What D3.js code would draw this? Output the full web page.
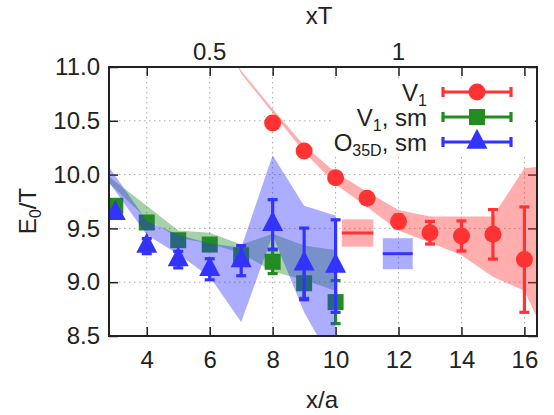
<!DOCTYPE html>
<html>
<head>
<meta charset="utf-8">
<script src="https://cdn.jsdelivr.net/npm/d3@7"></script>
<style>
  body { margin: 0; background: #fff; }
  text { font-family: "Liberation Sans", Arial, sans-serif; fill: #222; }
</style>
</head>
<body>
<div id="chart"></div>
<script>
// V1 (red circles)
const v1X   = [8, 9, 10, 11, 12, 13, 14, 15, 16];
const v1Y   = [10.48, 10.22, 9.97, 9.78, 9.565, 9.46, 9.43, 9.445, 9.21];
const v1Err = [0.02, 0.02, 0.03, 0.04, 0.06, 0.105, 0.14, 0.23, 0.49];

// V1, sm (green squares)
const smX   = [3, 4, 5, 6, 7, 8, 9, 10];
const smY   = [9.71, 9.555, 9.39, 9.35, 9.25, 9.19, 8.99, 8.815];
const smErr = [0.03, 0.03, 0.04, 0.05, 0.06, 0.11, 0.14, 0.2];

// O35D, sm (blue triangles)
const o35X   = [3, 4, 5, 6, 7, 8, 9, 10];
const o35Y   = [9.64, 9.335, 9.21, 9.12, 9.2, 9.537, 9.17, 9.15];
const o35Err = [0.03, 0.07, 0.077, 0.098, 0.14, 0.23, 0.333, 0.43];

// bands
const v1BandX  = [6.9, 7, 8, 9, 10, 11, 12, 13, 14, 15, 16, 16.4];
const v1BandLo = [11.0, 10.94, 10.575, 10.21, 9.91, 9.70, 9.48, 9.37, 9.25, 9.05, 8.92, 8.67];
const v1BandHi = [11.02, 10.965, 10.61, 10.27, 10.02, 9.84, 9.67, 9.61, 9.61, 9.61, 10.06, 10.07];

const smBandX  = [2.8, 4, 5, 6, 7, 8, 9, 10];
const smBandLo = [9.92, 9.59, 9.41, 9.36, 9.27, 9.10, 9.02, 8.92];
const smBandHi = [9.98, 9.71, 9.48, 9.46, 9.35, 9.45, 9.34, 9.30];

const o35BandX  = [2.8, 4, 5, 6, 7, 8, 9, 10];
const o35BandLo = [9.93, 9.44, 9.26, 9.05, 8.63, 9.44, 8.72, 8.2];
const o35BandHi = [10.07, 9.57, 9.44, 9.36, 9.32, 10.18, 9.71, 9.62];

// plateau fits: red then blue
const platX0  = [10.2, 11.5];
const platX1  = [11.2, 12.45];
const platY   = [9.457, 9.265];
const platErr = [0.127, 0.144];

// ticks
const xTicks  = [4, 6, 8, 10, 12, 14, 16];
const yTicks  = [8.5, 9.0, 9.5, 10.0, 10.5, 11.0];
const xtTicks = [0.5, 1];
const xtScale = 12; // xT = (x/a) / 12

const red = "#ff3333", green = "#228b22", blue = "#3333ff";

const width = 554, height = 415;
const plot = { left: 109, right: 537, top: 67, bottom: 336 };

const svg = d3.select("#chart").append("svg")
    .attr("width", width)
    .attr("height", height);

const x = d3.scaleLinear().domain([2.8, 16.4]).range([plot.left, plot.right]);
const y = d3.scaleLinear().domain([8.5, 11.0]).range([plot.bottom, plot.top]);

svg.append("clipPath").attr("id", "clip")
  .append("rect")
    .attr("x", plot.left).attr("y", plot.top)
    .attr("width", plot.right - plot.left)
    .attr("height", plot.bottom - plot.top);

// grille pointillée
const grid = svg.append("g").attr("stroke", "#aaa").attr("stroke-width", 1).attr("stroke-dasharray", "1.5,3.5");
xTicks.forEach(t => grid.append("line").attr("x1", x(t)).attr("x2", x(t)).attr("y1", plot.top).attr("y2", plot.bottom));
yTicks.filter(t => t > 8.5 && t < 11).forEach(t => grid.append("line").attr("x1", plot.left).attr("x2", plot.right).attr("y1", y(t)).attr("y2", y(t)));

// axes
const fs = 24;
const axB = svg.append("g").attr("transform", `translate(0,${plot.bottom})`)
    .call(d3.axisBottom(x).tickValues(xTicks).tickSizeInner(-9).tickSizeOuter(0).tickPadding(14.5));
const axT = svg.append("g").attr("transform", `translate(0,${plot.top})`)
    .call(d3.axisTop(x).tickValues(xTicks).tickSizeInner(-9).tickSizeOuter(0).tickFormat(""));
const axL = svg.append("g").attr("transform", `translate(${plot.left},0)`)
    .call(d3.axisLeft(y).tickValues(yTicks).tickSizeInner(-9).tickSizeOuter(0).tickPadding(9).tickFormat(d3.format(".1f")));
const axR = svg.append("g").attr("transform", `translate(${plot.right},0)`)
    .call(d3.axisRight(y).tickValues(yTicks).tickSizeInner(-9).tickSizeOuter(0).tickFormat(""));
[axB, axT, axL, axR].forEach(a => {
  a.select(".domain").remove();
  a.selectAll("line").attr("stroke", "#222").attr("stroke-width", 1.5);
  a.selectAll("text").attr("font-size", fs).attr("fill", "#222").style("font-family", '"Liberation Sans", Arial, sans-serif');
});

// axe du haut en xT
svg.append("g").selectAll("text").data(xtTicks).join("text")
    .attr("x", d => x(d * xtScale))
    .attr("y", 60)
    .attr("text-anchor", "middle")
    .attr("font-size", fs)
    .text(d => d);

// titres des axes
svg.append("text").attr("x", 322).attr("y", 408).attr("text-anchor", "middle").attr("font-size", fs).text("x/a");
svg.append("text").attr("x", 319).attr("y", 23.5).attr("text-anchor", "middle").attr("font-size", fs).text("xT");
const yl = svg.append("text").attr("transform", "translate(36,211) rotate(-90)").attr("text-anchor", "middle").attr("font-size", fs);
yl.append("tspan").text("E");
yl.append("tspan").attr("font-size", 16).attr("dy", 5).text("0");
yl.append("tspan").attr("dy", -5).text("/T");

// zones et points
const data = svg.append("g").attr("clip-path", "url(#clip)");

function band(xs, lo, hi, color) {
  const pts = xs.map((d, i) => ({ x: d, lo: lo[i], hi: hi[i] }));
  data.append("path")
      .datum(pts)
      .attr("fill", color)
      .attr("fill-opacity", 0.4)
      .attr("d", d3.area().x(d => x(d.x)).y0(d => y(d.lo)).y1(d => y(d.hi)));
}

function plateau(i, color) {
  data.append("rect")
      .attr("x", x(platX0[i])).attr("width", x(platX1[i]) - x(platX0[i]))
      .attr("y", y(platY[i] + platErr[i])).attr("height", y(platY[i] - platErr[i]) - y(platY[i] + platErr[i]))
      .attr("fill", color).attr("fill-opacity", 0.4);
  data.append("line")
      .attr("x1", x(platX0[i])).attr("x2", x(platX1[i]))
      .attr("y1", y(platY[i])).attr("y2", y(platY[i]))
      .attr("stroke", color).attr("stroke-width", 3);
}

function errorbars(xs, ys, es, color) {
  const g = data.append("g").attr("stroke", color).attr("stroke-width", 3.2);
  xs.forEach((d, i) => {
    const cx = x(d), top = y(ys[i] + es[i]), bot = y(ys[i] - es[i]);
    g.append("line").attr("x1", cx).attr("x2", cx).attr("y1", top).attr("y2", bot);
    g.append("line").attr("x1", cx - 5).attr("x2", cx + 5).attr("y1", top).attr("y2", top);
    g.append("line").attr("x1", cx - 5).attr("x2", cx + 5).attr("y1", bot).attr("y2", bot);
  });
}

const tri = (b, h) => `M0,${-2 * h / 3}L${b / 2},${h / 3}L${-b / 2},${h / 3}Z`;

// V1
band(v1BandX, v1BandLo, v1BandHi, red);
plateau(0, red);
errorbars(v1X, v1Y, v1Err, red);
data.append("g").selectAll("circle").data(v1X).join("circle")
    .attr("cx", d => x(d)).attr("cy", (d, i) => y(v1Y[i])).attr("r", 8.5).attr("fill", red);

// V1, sm
band(smBandX, smBandLo, smBandHi, green);
errorbars(smX, smY, smErr, green);
data.append("g").selectAll("rect").data(smX).join("rect")
    .attr("x", d => x(d) - 8).attr("y", (d, i) => y(smY[i]) - 8)
    .attr("width", 16).attr("height", 16).attr("fill", green);

// O35D, sm
band(o35BandX, o35BandLo, o35BandHi, blue);
plateau(1, blue);
errorbars(o35X, o35Y, o35Err, blue);
data.append("g").selectAll("path.tri").data(o35X).join("path")
    .attr("class", "tri")
    .attr("transform", (d, i) => `translate(${x(d)},${y(o35Y[i])})`)
    .attr("d", tri(21, 20)).attr("fill", blue);

// cadre
svg.append("rect")
    .attr("x", plot.left).attr("y", plot.top)
    .attr("width", plot.right - plot.left).attr("height", plot.bottom - plot.top)
    .attr("fill", "none").attr("stroke", "#222").attr("stroke-width", 2);

// légende (opaque)
svg.append("rect").attr("x", 332).attr("y", 80).attr("width", 203).attr("height", 76).attr("fill", "#fff");
const legend = [
  { main: "V", sub: "1", rest: "", color: red, mark: "circle" },
  { main: "V", sub: "1", rest: ", sm", color: green, mark: "square" },
  { main: "O", sub: "35D", rest: ", sm", color: blue, mark: "tri" }
];
legend.forEach((d, i) => {
  const ly = 92 + i * 25;
  const t = svg.append("text").attr("x", 427).attr("y", ly + 8.5).attr("text-anchor", "end").attr("font-size", fs);
  t.append("tspan").text(d.main);
  t.append("tspan").attr("font-size", 16).attr("dy", 5).text(d.sub);
  t.append("tspan").attr("dy", -5).text(d.rest);
  const g = svg.append("g").attr("stroke", d.color).attr("stroke-width", 3.2);
  g.append("line").attr("x1", 443).attr("x2", 511).attr("y1", ly).attr("y2", ly);
  g.append("line").attr("x1", 443).attr("x2", 443).attr("y1", ly - 5).attr("y2", ly + 5);
  g.append("line").attr("x1", 511).attr("x2", 511).attr("y1", ly - 5).attr("y2", ly + 5);
  if (d.mark === "circle") svg.append("circle").attr("cx", 477).attr("cy", ly).attr("r", 8.5).attr("fill", d.color);
  if (d.mark === "square") svg.append("rect").attr("x", 469).attr("y", ly - 8).attr("width", 16).attr("height", 16).attr("fill", d.color);
  if (d.mark === "tri") svg.append("path").attr("transform", `translate(477,${ly})`).attr("d", tri(21, 20)).attr("fill", d.color);
});
</script>
</body>
</html>
